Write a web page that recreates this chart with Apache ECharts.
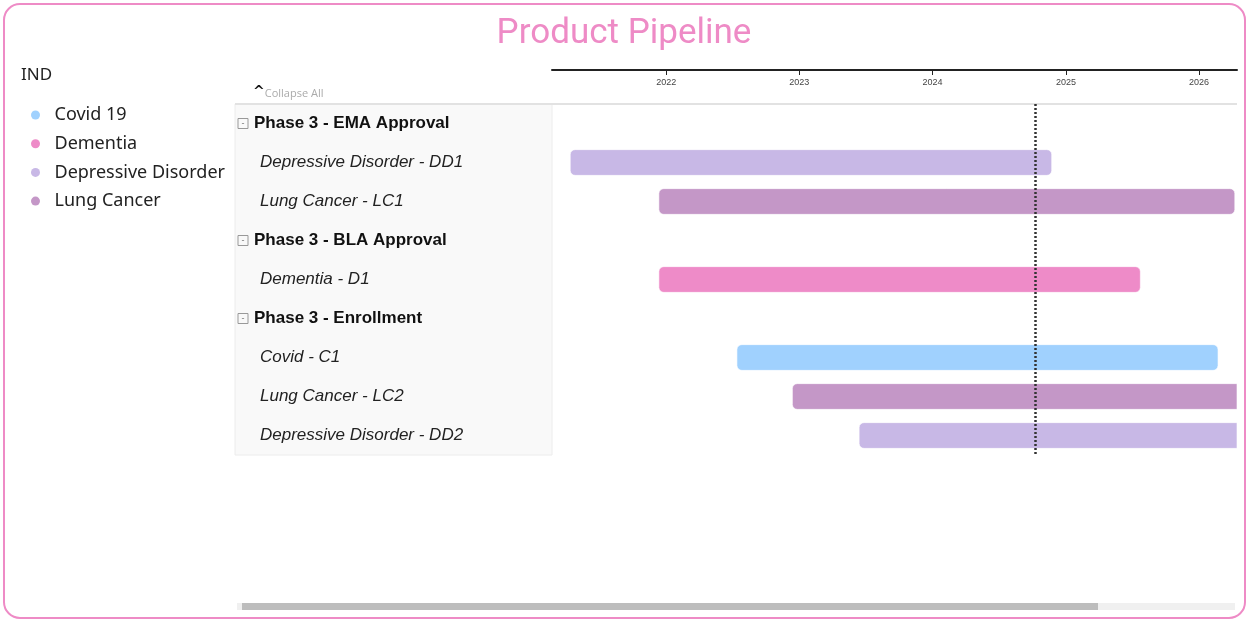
<!DOCTYPE html>
<html>
<head>
<meta charset="utf-8">
<title>Product Pipeline</title>
<script src="https://cdn.jsdelivr.net/npm/echarts@6/dist/echarts.min.js"></script>
<style>
  html, body { margin: 0; padding: 0; background: #fff; }
  #chartGantt { width: 1248px; height: 621px; }
</style>
</head>
<body>
<div id="chartGantt"></div>
<script>
// rows of the left table, top to bottom
const rowLabels = [
  'Phase 3 - EMA Approval',
  'Depressive Disorder - DD1',
  'Lung Cancer - LC1',
  'Phase 3 - BLA Approval',
  'Dementia - D1',
  'Phase 3 - Enrollment',
  'Covid - C1',
  'Lung Cancer - LC2',
  'Depressive Disorder - DD2'
];
const phaseLabels = ['Phase 3 - EMA Approval', 'Phase 3 - BLA Approval', 'Phase 3 - Enrollment'];

const diseases = ['Covid 19', 'Dementia', 'Depressive Disorder', 'Lung Cancer'];
const diseaseColors = ['#A0D1FE', '#EE8BC8', '#C8B8E6', '#C497C7'];

// tasks
const taskNames   = ['Depressive Disorder - DD1', 'Lung Cancer - LC1', 'Dementia - D1', 'Covid - C1', 'Lung Cancer - LC2', 'Depressive Disorder - DD2'];
const taskDisease = ['Depressive Disorder', 'Lung Cancer', 'Dementia', 'Covid 19', 'Lung Cancer', 'Depressive Disorder'];
const taskStarts  = ['2021-04-13', '2021-12-12', '2021-12-12', '2022-07-14', '2022-12-13', '2023-06-14'];
const taskEnds    = ['2024-11-23', '2026-04-09', '2025-07-24', '2026-02-22', '2026-09-30', '2026-08-31'];

const todayMarker = '2024-10-10';
const axisMin = '2021-02-22';
const axisMax = '2026-04-15';

const chart = echarts.init(document.getElementById('chartGantt'));

function renderBar(params, api) {
  const row = api.value(0);
  const start = api.coord([api.value(1), row]);
  const end = api.coord([api.value(2), row]);
  const h = api.size([0, 1])[1] * 0.66;
  const rect = echarts.graphic.clipRectByRect({
    x: start[0], y: start[1] - h / 2, width: end[0] - start[0], height: h
  }, {
    x: params.coordSys.x, y: params.coordSys.y,
    width: params.coordSys.width, height: params.coordSys.height
  });
  if (!rect) return;
  const cut = end[0] > params.coordSys.x + params.coordSys.width;
  return {
    type: 'rect',
    shape: Object.assign(rect, { r: cut ? [5, 0, 0, 5] : 5 }),
    style: { fill: api.visual('color'), stroke: 'rgba(255,255,255,0.6)', lineWidth: 1 }
  };
}

const series = diseases.map(function (d, i) {
  const data = [];
  taskNames.forEach(function (t, k) {
    if (taskDisease[k] === d) {
      data.push([rowLabels.indexOf(t), taskStarts[k], taskEnds[k]]);
    }
  });
  const s = {
    name: d,
    type: 'custom',
    renderItem: renderBar,
    itemStyle: { color: diseaseColors[i] },
    encode: { x: [1, 2], y: 0 },
    data: data
  };
  if (i === 0) {
    s.markLine = {
      silent: true,
      symbol: 'none',
      label: { show: false },
      lineStyle: { type: [2, 2], color: '#333', width: 2.5 },
      data: [{ xAxis: todayMarker }]
    };
  }
  return s;
});

chart.setOption({
  animation: false,
  title: [
    {
      text: 'Product Pipeline',
      left: 'center',
      top: 12,
      textStyle: { fontFamily: 'Roboto', fontWeight: 'normal', fontSize: 35, color: '#EE8BC6' }
    },
    {
      text: 'IND',
      left: 16,
      top: 62,
      textStyle: { fontFamily: 'Noto Sans', fontWeight: 'normal', fontSize: 17, color: '#222' }
    }
  ],
  legend: {
    orient: 'vertical',
    left: 26,
    top: 100,
    icon: 'circle',
    itemWidth: 28,
    itemHeight: 9,
    itemGap: 8.7,
    data: diseases,
    textStyle: { fontFamily: 'Noto Sans', fontSize: 18, color: '#222', lineHeight: 20 }
  },
  grid: { left: 552, right: 11, top: 104, bottom: 166 },
  xAxis: {
    type: 'time',
    position: 'top',
    offset: 34,
    min: axisMin,
    max: axisMax,
    minInterval: 365 * 24 * 3600 * 1000,
    maxInterval: 366 * 24 * 3600 * 1000,
    axisLine: { show: true, lineStyle: { color: '#222', width: 2 } },
    axisTick: { show: true, inside: true, length: 5, lineStyle: { color: '#222' } },
    axisLabel: {
      inside: true,
      margin: 8,
      fontSize: 9,
      color: '#444',
      fontFamily: 'Liberation Sans',
      formatter: '{yyyy}'
    },
    splitLine: { show: false }
  },
  yAxis: {
    type: 'category',
    inverse: true,
    data: rowLabels,
    axisLine: { show: false },
    axisTick: { show: false },
    splitLine: { show: false },
    axisLabel: {
      align: 'left',
      margin: 314,
      formatter: function (v) {
        if (phaseLabels.indexOf(v) >= 0) return '{box|-}{ph|' + v + '}';
        return '{it|' + v + '}';
      },
      rich: {
        box: {
          width: 10, height: 10, lineHeight: 10, align: 'center',
          borderColor: '#999', borderWidth: 1, fontSize: 9, color: '#777',
          fontFamily: 'Liberation Sans'
        },
        ph: {
          fontFamily: 'Liberation Sans', fontWeight: 'bold', fontSize: 17,
          color: '#111', padding: [0, 0, 0, 6]
        },
        it: {
          fontFamily: 'Liberation Sans', fontStyle: 'italic', fontSize: 17,
          color: '#222', padding: [0, 0, 0, 22]
        }
      }
    }
  },
  graphic: [
    {
      type: 'rect', z: -10,
      shape: { x: 4, y: 4, width: 1241, height: 614, r: 16 },
      style: { fill: 'none', stroke: '#EE8BC6', lineWidth: 2 }
    },
    {
      type: 'rect', z: -5,
      shape: { x: 235, y: 104, width: 317, height: 351 },
      style: { fill: '#F9F9F9', stroke: '#ECECEC', lineWidth: 1 }
    },
    {
      type: 'line', z: -4,
      shape: { x1: 235, y1: 104, x2: 1237, y2: 104 },
      style: { stroke: '#E2E2E2', lineWidth: 2 }
    },
    {
      type: 'text',
      left: 253, top: 85,
      style: {
        text: '{c|^}{t|Collapse All}',
        rich: {
          c: { fontFamily: 'DejaVu Sans', fontWeight: 'bold', fontSize: 14, fill: '#111' },
          t: { fontFamily: 'Open Sans', fontSize: 11, fill: '#ABABAB', padding: [4, 0, 0, 0] }
        }
      }
    },
    {
      type: 'rect',
      shape: { x: 237, y: 603, width: 998, height: 7 },
      style: { fill: '#F0F0F0' }
    },
    {
      type: 'rect',
      shape: { x: 242, y: 603, width: 856, height: 7 },
      style: { fill: '#BDBDBD' }
    }
  ],
  series: series
});
</script>
</body>
</html>
